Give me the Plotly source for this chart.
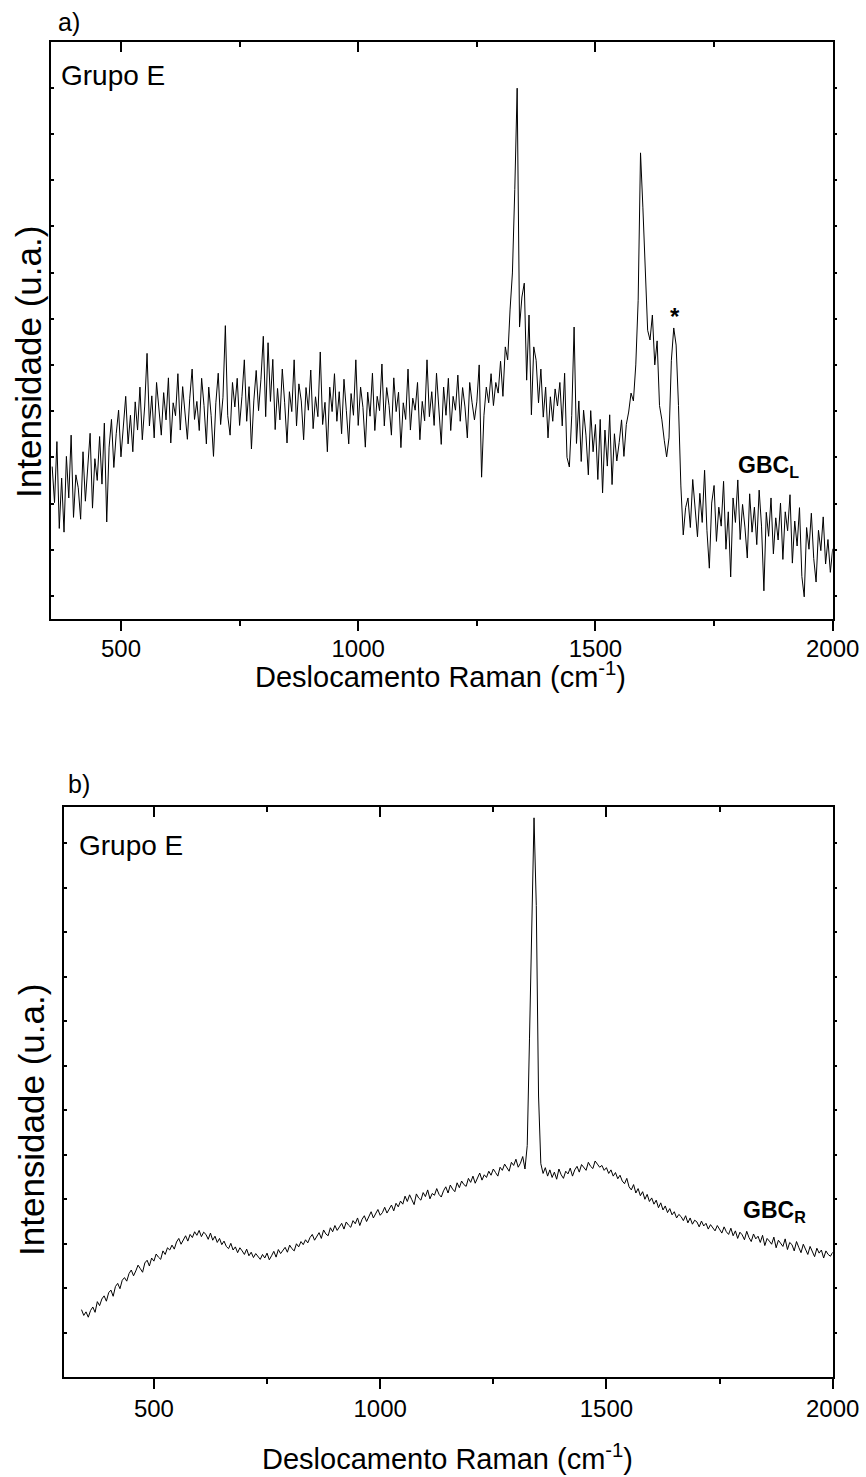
import numpy as np
import plotly.graph_objects as go

W, H = 866, 1477
FONT = "Arial, 'Liberation Sans', Helvetica, sans-serif"

# ---- (a) GBC_L spectrum: wavenumber grid (cm^-1) and intensity (a.u.) ----
wn_a = np.arange(355, 2001, 5)
int_a = [
    330, 252, 384, 196, 305, 188, 352, 262, 398, 220, 312, 284, 216, 362, 255, 334, 402, 240, 347, 300,
    395, 292, 424, 210, 372, 432, 328, 401, 452, 351, 418, 482, 379, 441, 362, 470, 409, 502, 388, 461,
    575, 418, 483, 392, 512, 449, 398, 490, 431, 522, 381, 468, 440, 531, 409, 503, 452, 389, 478, 541,
    432, 471, 408, 521, 462, 379, 502, 441, 352, 468, 532, 421, 480, 635, 440, 398, 512, 459, 521, 419,
    482, 561, 428, 503, 368, 472, 538, 451, 519, 612, 438, 598, 471, 562, 410, 499, 431, 541, 468, 381,
    492, 449, 561, 418, 509, 472, 388, 501, 452, 539, 412, 481, 438, 578, 421, 469, 362, 502, 449, 531,
    428, 492, 401, 519, 451, 379, 488, 441, 561, 419, 502, 458, 372, 491, 439, 532, 408, 482, 451, 552,
    418, 501, 462, 398, 522, 449, 491, 371, 468, 432, 541, 409, 478, 452, 512, 388, 471, 429, 561, 438,
    492, 419, 532, 448, 378, 502, 441, 521, 408, 482, 452, 528, 428, 501, 459, 392, 512, 468, 431, 470,
    550, 307, 441, 502, 468, 531, 462, 512, 489, 558, 482, 589, 561, 669, 749, 930, 1149, 632, 697, 727,
    517, 658, 442, 589, 560, 468, 541, 437, 502, 392, 481, 428, 498, 461, 512, 418, 532, 350, 329, 440,
    632, 380, 472, 341, 452, 398, 312, 451, 362, 421, 302, 432, 273, 409, 331, 442, 291, 401, 342, 382,
    431, 352, 421, 448, 489, 472, 550, 690, 1009, 890, 745, 625, 604, 658, 550, 602, 462, 431, 387, 351,
    392, 560, 630, 593, 462, 288, 182, 241, 262, 198, 302, 229, 178, 272, 209, 322, 191, 110, 251, 289,
    168, 242, 201, 298, 151, 232, 91, 262, 209, 301, 172, 248, 199, 132, 271, 188, 242, 161, 279, 201,
    61, 231, 179, 262, 141, 219, 171, 251, 129, 232, 191, 269, 121, 212, 158, 241, 92, 48, 198, 151,
    229, 131, 80, 192, 148, 221, 119, 172, 101, 152,
]

# ---- (b) GBC_R spectrum ----
wn_b = np.arange(340, 2001, 5)
int_b = [
    152, 139, 147, 135, 150, 158, 146, 170, 161, 176, 183, 171, 190, 196, 182, 204, 211, 199, 218, 224,
    216, 233, 241, 228, 239, 252, 244, 236, 257, 263, 250, 268, 261, 277, 270, 265, 284, 276, 291, 286,
    297, 288, 304, 312, 299, 309, 318, 306, 321, 314, 327, 319, 330, 316, 326, 321, 310, 324, 308, 317,
    303, 312, 298, 306, 294, 289, 301, 286, 293, 280, 291, 284, 276, 288, 273, 281, 269, 278, 272, 265,
    276, 268, 279, 264, 273, 283, 270, 287, 278, 285, 292, 281, 297, 289, 284, 300, 293, 305, 298, 309,
    302, 314, 321, 308, 317, 325, 312, 331, 322, 318, 336, 327, 341, 330, 338, 346, 333, 349, 342, 337,
    352, 345, 358, 341, 355, 363, 350, 361, 372, 358, 366, 377, 364, 370, 382, 369, 378, 387, 374, 391,
    383, 396, 389, 407, 395, 410, 399, 388, 412, 403, 398, 415, 406, 421, 401, 413, 409, 424, 411, 405,
    419, 428, 414, 432, 423, 417, 437, 426, 441, 433, 429, 447, 438, 452, 436, 446, 459, 443, 455, 449,
    463, 454, 468, 460, 452, 472, 465, 479, 470, 463, 483, 476, 490, 472, 481, 496, 468, 521, 762, 1032,
    1257, 1060, 632, 480, 458, 471, 452, 466, 449, 461, 445, 468, 455, 447, 463, 457, 470, 452, 466, 474,
    461, 478, 470, 465, 483, 474, 469, 486, 479, 472, 476, 465, 471, 458, 466, 452, 460, 446, 454, 441,
    435, 447, 428, 421, 433, 414, 424, 408, 417, 400, 411, 395, 403, 389, 398, 381, 392, 376, 385, 370,
    379, 365, 372, 358, 366, 361, 352, 363, 347, 358, 344, 353, 349, 338, 351, 340, 346, 333, 343, 336,
    329, 341, 333, 324, 338, 327, 321, 335, 318, 329, 312, 326, 320, 309, 328, 314, 305, 322, 311, 317,
    303, 319, 296, 312, 306, 299, 315, 291, 308, 301, 294, 311, 287, 303, 298, 284, 305, 292, 280, 299,
    289, 276, 294, 283, 271, 290, 279, 286, 268, 284, 276, 272, 281,
]

x_major = [500, 1000, 1500, 2000]
x_minor = [750, 1250, 1750]
x_labels = ["500", "1000", "1500", "2000"]
y_ticks_a = [50 + 100 * k for k in range(12)]
y_ticks_b = [100 * k for k in range(1, 13)]
x_title = "Deslocamento Raman (cm<sup>-1</sup>)"
y_title = "Intensidade (u.a.)"
group_label = "Grupo E"


def fx(p):
    return p / W


def fy(p):
    return 1 - p / H


dom_a_x = [fx(50.5), fx(832.7)]
dom_a_y = [fy(619), fy(42)]
dom_b_x = [fx(64.3), fx(832.7)]
dom_b_y = [fy(1377.3), fy(806.7)]
range_a_x = [351.5, 2000]
range_b_x = [302, 2000]
range_a_y = [0, 1249]
range_b_y = [0, 1282]

fig = go.Figure()
fig.add_trace(go.Scatter(x=wn_a, y=int_a, mode="lines", line=dict(color="black", width=1),
                         xaxis="x", yaxis="y", showlegend=False, hoverinfo="skip"))
fig.add_trace(go.Scatter(x=wn_b, y=int_b, mode="lines", line=dict(color="black", width=1),
                         xaxis="x2", yaxis="y2", showlegend=False, hoverinfo="skip"))
# empty traces that bind the mirrored tick axes
for xa, ya in [("x3", "y"), ("x", "y3"), ("x4", "y2"), ("x2", "y4")]:
    fig.add_trace(go.Scatter(x=[], y=[], xaxis=xa, yaxis=ya, showlegend=False, hoverinfo="skip"))

tickfont = dict(family=FONT, size=24, color="black")


def x_main(domain, rng, anchor, standoff):
    return dict(domain=domain, anchor=anchor, range=rng, autorange=False,
                tickmode="array", tickvals=x_major, ticktext=x_labels,
                ticks="outside", ticklen=10, tickwidth=2, tickcolor="black",
                ticklabelstandoff=standoff,
                minor=dict(tickmode="array", tickvals=x_minor, ticks="outside",
                           ticklen=5, tickwidth=2, tickcolor="black"),
                showline=True, linecolor="black", linewidth=2, mirror=True,
                showgrid=False, zeroline=False, tickfont=tickfont, automargin=False)


def x_top(over, rng, anchor):
    return dict(overlaying=over, anchor=anchor, side="top", range=rng, autorange=False,
                tickmode="array", tickvals=x_major, ticks="inside", ticklen=10,
                tickwidth=2, tickcolor="black",
                minor=dict(tickmode="array", tickvals=x_minor, ticks="inside",
                           ticklen=5, tickwidth=2, tickcolor="black"),
                showticklabels=False, showline=False, showgrid=False, zeroline=False,
                automargin=False)


def y_main(domain, rng, anchor, tv):
    return dict(domain=domain, anchor=anchor, range=rng, autorange=False,
                tickmode="array", tickvals=tv, ticks="inside", ticklen=3,
                tickwidth=1.5, tickcolor="black", showticklabels=False,
                showline=True, linecolor="black", linewidth=2, mirror=True,
                showgrid=False, zeroline=False, automargin=False)


def y_right(over, rng, anchor, tv):
    return dict(overlaying=over, anchor=anchor, side="right", range=rng, autorange=False,
                tickmode="array", tickvals=tv, ticks="outside", ticklen=3,
                tickwidth=1.5, tickcolor="black", showticklabels=False,
                showline=False, showgrid=False, zeroline=False, automargin=False)


fig.update_layout(
    width=W, height=H, autosize=False,
    margin=dict(l=0, r=0, t=0, b=0, pad=0, autoexpand=False),
    paper_bgcolor="white", plot_bgcolor="white",
    xaxis=x_main(dom_a_x, range_a_x, "y", -3),
    yaxis=y_main(dom_a_y, range_a_y, "x", y_ticks_a),
    xaxis3=x_top("x", range_a_x, "y"),
    yaxis3=y_right("y", range_a_y, "x", y_ticks_a),
    xaxis2=x_main(dom_b_x, range_b_x, "y2", -1),
    yaxis2=y_main(dom_b_y, range_b_y, "x2", y_ticks_b),
    xaxis4=x_top("x2", range_b_x, "y2"),
    yaxis4=y_right("y2", range_b_y, "x2", y_ticks_b),
)


def label(text, px, py, size, xanchor="left", angle=0):
    fig.add_annotation(text=text, x=fx(px), y=fy(py), xref="paper", yref="paper",
                       xanchor=xanchor, yanchor="middle", showarrow=False,
                       textangle=angle, font=dict(family=FONT, size=size, color="black"))


label("a)", 56, 22, 25)
label("b)", 66, 784, 25)
label(group_label, 59, 76, 28)
label(group_label, 77, 845, 28)
label("<b>*</b>", 675, 316, 24, xanchor="center")
label("<b>GBC<sub>L</sub></b>", 736, 466, 23)
label("<b>GBC<sub>R</sub></b>", 741, 1211, 23)
label(x_title, 440, 675, 29, xanchor="center")
label(x_title, 447, 1457, 29, xanchor="center")
label(y_title, 28, 362, 35, xanchor="center", angle=-90)
label(y_title, 31, 1120, 35, xanchor="center", angle=-90)

fig.write_html("out.html")
